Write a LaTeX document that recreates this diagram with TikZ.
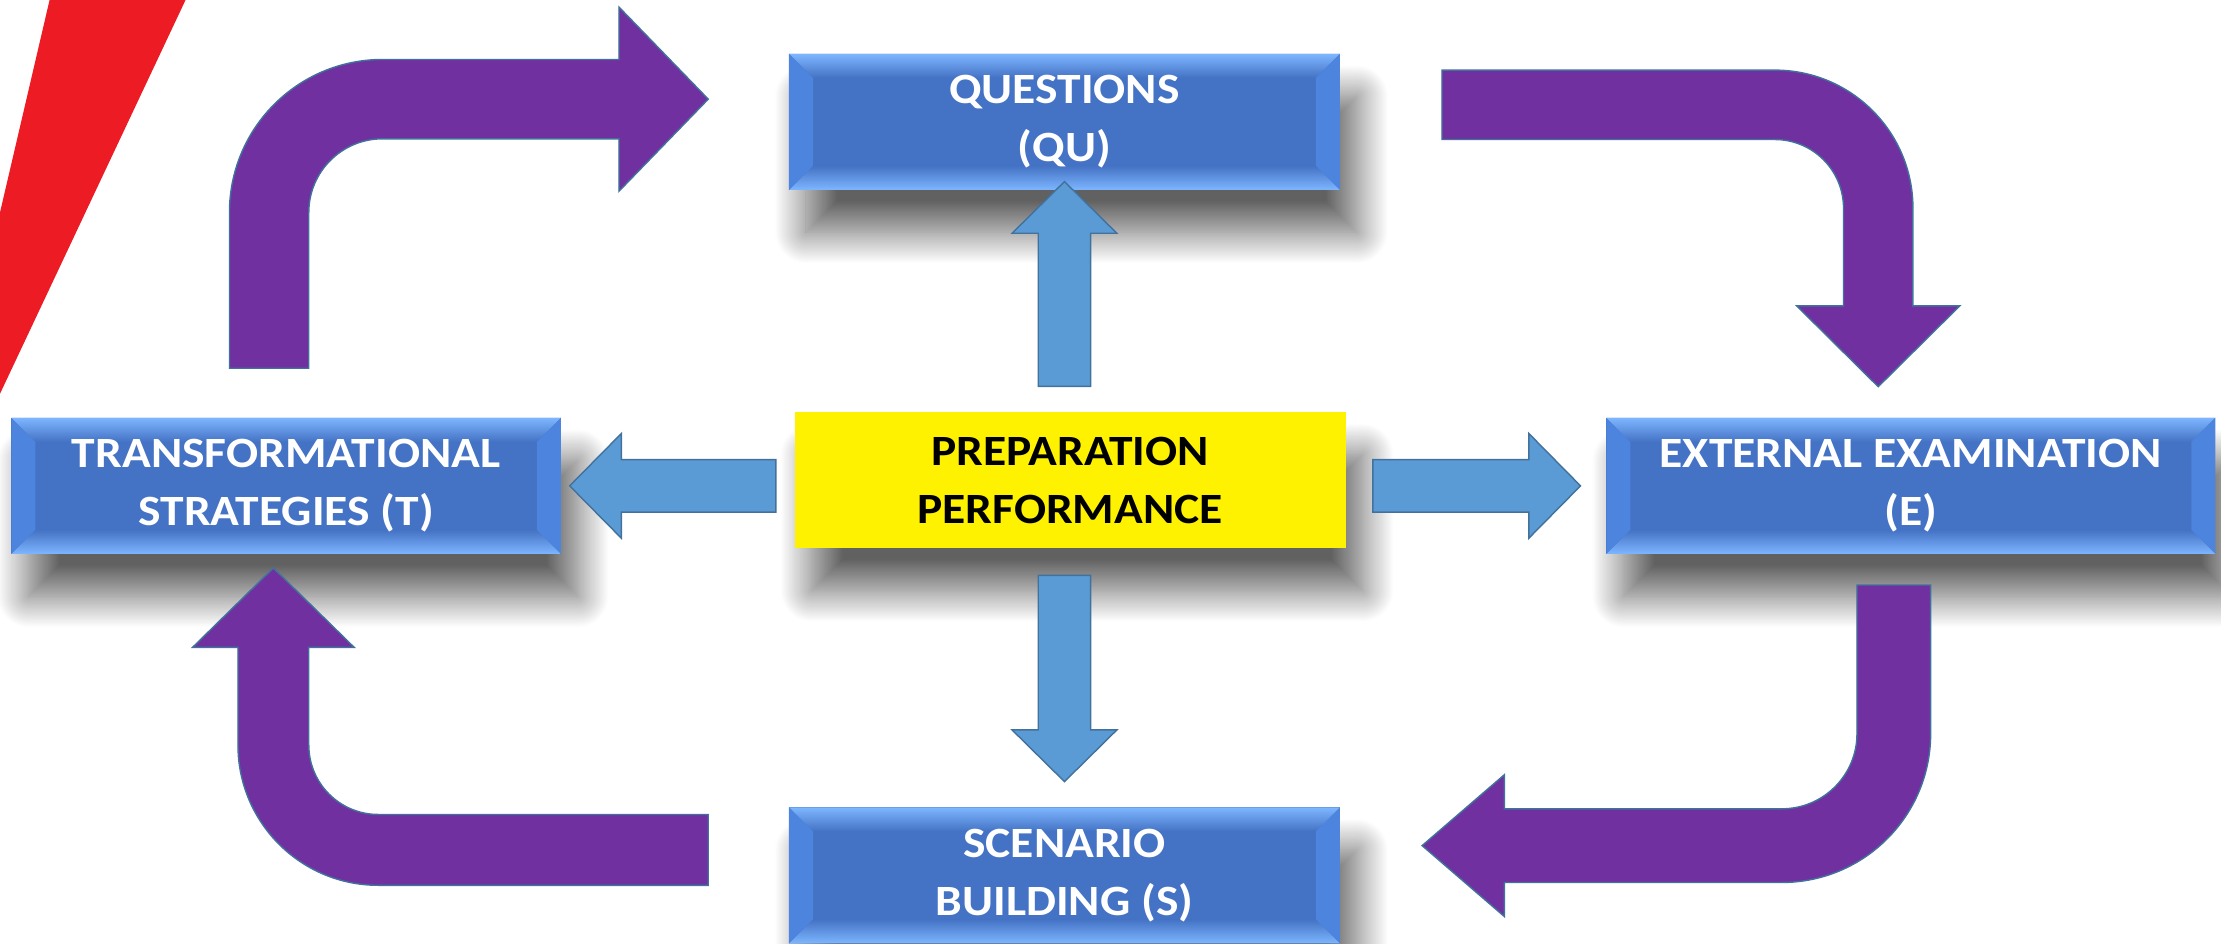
\documentclass[tikz,border=0pt]{standalone}
\usepackage{fontspec}
\setmainfont{Carlito}[FakeStretch=1.1]
\usetikzlibrary{calc,shadows.blur}

\definecolor{boxblue}{HTML}{4472C4}
\definecolor{bevlight}{HTML}{7DB6FF}
\definecolor{bevside}{HTML}{4D84DE}
\definecolor{arrowblue}{HTML}{5B9BD5}
\definecolor{edgeblue}{HTML}{41719C}
\definecolor{loopviolet}{HTML}{7030A0}
\definecolor{stripred}{HTML}{ED1C24}

\tikzset{
  softshadow/.style={blur shadow={shadow xshift=12pt, shadow yshift=-30pt,
    shadow blur radius=22pt, shadow blur steps=40, shadow opacity=62}},
  % blue bevelled boxes
  bevelbox/.style={rectangle, minimum width=389pt, minimum height=96pt, inner sep=0pt,
    align=center, text=white, fill=boxblue, font=\bfseries\fontsize{30.5}{41}\selectfont,
    softshadow,
    path picture={
      \path (path picture bounding box.north west) coordinate (nw)
            (path picture bounding box.north east) coordinate (ne)
            (path picture bounding box.south west) coordinate (sw)
            (path picture bounding box.south east) coordinate (se);
      \fill[top color=bevlight, bottom color=boxblue] (nw) -- (ne) -- ([shift={(-17pt,-17pt)}]ne) -- ([shift={(17pt,-17pt)}]nw) -- cycle;
      \fill[top color=boxblue, bottom color=bevlight] (sw) -- (se) -- ([shift={(-17pt,17pt)}]se) -- ([shift={(17pt,17pt)}]sw) -- cycle;
      \fill[bevside] (nw) -- ([shift={(17pt,-17pt)}]nw) -- ([shift={(17pt,17pt)}]sw) -- (sw) -- cycle;
      \fill[bevside] (ne) -- ([shift={(-17pt,-17pt)}]ne) -- ([shift={(-17pt,17pt)}]se) -- (se) -- cycle;
    }},
  corebox/.style={rectangle, minimum width=389pt, minimum height=96pt, inner sep=0pt,
    align=center, fill=yellow, font=\bfseries\fontsize{30.5}{41}\selectfont, softshadow},
  % straight block arrow between two points
  blockarrow/.style={draw=edgeblue, fill=arrowblue, line width=1pt,
    to path={let \p1=(\tikztostart), \p2=(\tikztotarget),
      \n1={atan2(\y2-\y1,\x2-\x1)}, \n2={veclen(\x2-\x1,\y2-\y1)-36.5pt} in
      ($(\p1)+(\n1+90:18.5pt)$) -- ($(\p1)+(\n1:{\n2*1pt})+(\n1+90:18.5pt)$)
      -- ($(\p1)+(\n1:{\n2*1pt})+(\n1+90:37pt)$) -- (\p2)
      -- ($(\p1)+(\n1:{\n2*1pt})+(\n1-90:37pt)$) -- ($(\p1)+(\n1:{\n2*1pt})+(\n1-90:18.5pt)$)
      -- ($(\p1)+(\n1-90:18.5pt)$) -- cycle}},
  loop/.style={draw=edgeblue, fill=loopviolet, line width=1pt},
  % bent arrow, vertical first: half width, radius, head half width, head length
  bentv/.style n args={4}{loop,
    to path={let \p1=(\tikztostart), \p2=(\tikztotarget),
      \n1={(\x2-\x1)/abs(\x2-\x1)}, \n2={(\y2-\y1)/abs(\y2-\y1)} in
      ({\x1-\n1*#1},\y1) -- ({\x1-\n1*#1},{\y2-\n2*#2})
      .. controls ({\x1-\n1*#1},{\y2-\n2*#2+\n2*0.5523*(#2+#1)}) and ({\x1+\n1*#2-\n1*0.5523*(#2+#1)},{\y2+\n2*#1}) ..
      ({\x1+\n1*#2},{\y2+\n2*#1}) -- ({\x2-\n1*#4},{\y2+\n2*#1}) -- ({\x2-\n1*#4},{\y2+\n2*#3}) -- (\p2)
      -- ({\x2-\n1*#4},{\y2-\n2*#3}) -- ({\x2-\n1*#4},{\y2-\n2*#1}) -- ({\x1+\n1*#2},{\y2-\n2*#1})
      .. controls ({\x1+\n1*#2-\n1*0.5523*(#2-#1)},{\y2-\n2*#1}) and ({\x1+\n1*#1},{\y2-\n2*#2+\n2*0.5523*(#2-#1)}) ..
      ({\x1+\n1*#1},{\y2-\n2*#2}) -- ({\x1+\n1*#1},\y1) -- cycle}},
  % bent arrow, horizontal first
  benth/.style n args={4}{loop,
    to path={let \p1=(\tikztostart), \p2=(\tikztotarget),
      \n1={(\x2-\x1)/abs(\x2-\x1)}, \n2={(\y2-\y1)/abs(\y2-\y1)} in
      (\x1,{\y1-\n2*#1}) -- ({\x2-\n1*#2},{\y1-\n2*#1})
      .. controls ({\x2-\n1*#2+\n1*0.5523*(#2+#1)},{\y1-\n2*#1}) and ({\x2+\n1*#1},{\y1+\n2*#2-\n2*0.5523*(#2+#1)}) ..
      ({\x2+\n1*#1},{\y1+\n2*#2}) -- ({\x2+\n1*#1},{\y2-\n2*#4}) -- ({\x2+\n1*#3},{\y2-\n2*#4}) -- (\p2)
      -- ({\x2-\n1*#3},{\y2-\n2*#4}) -- ({\x2-\n1*#1},{\y2-\n2*#4}) -- ({\x2-\n1*#1},{\y1+\n2*#2})
      .. controls ({\x2-\n1*#1},{\y1+\n2*#2-\n2*0.5523*(#2-#1)}) and ({\x2-\n1*#2+\n1*0.5523*(#2-#1)},{\y1+\n2*#1}) ..
      ({\x2-\n1*#2},{\y1+\n2*#1}) -- (\x1,{\y1+\n2*#1}) -- cycle}}
}

\begin{document}
\begin{tikzpicture}[x=1pt,y=-1pt]
  \useasboundingbox (0,0) rectangle (1568,666);

  \fill[stripred] (35,0) -- (131,0) -- (0,278) -- (0,150) -- cycle;

  \begin{scope}[every node/.style={bevelbox}]
    \node (qu) at (751.5,86)  {QUESTIONS\\(QU)};
    \node (t)  at (202,343) [minimum width=388pt] {TRANSFORMATIONAL\\STRATEGIES (T)};
    \node (e)  at (1349,343) [minimum width=430pt] {EXTERNAL EXAMINATION\\(E)};
    \node (s)  at (751.5,618) {SCENARIO\\BUILDING (S)};
  \end{scope}
  \node[corebox] (pp) at (755.5,339) {PREPARATION\\PERFORMANCE};

  % outer cycle
  \coordinate (tq1) at (190,260);
  \coordinate (tq2) at (500,70);
  \coordinate (qe1) at (1018,74);
  \coordinate (qe2) at (1326,273);
  \coordinate (es1) at (1337,413);
  \coordinate (es2) at (1004,597);
  \coordinate (st1) at (500,600);
  \coordinate (st2) at (193,401);

  \path[bentv={28}{80}{65}{63}]   (tq1) to (tq2);
  \path[benth={24.5}{73}{57.5}{57}] (qe1) to (qe2);
  \path[bentv={26}{79}{50}{58}]   (es1) to (es2);
  \path[benth={25}{74}{57}{56}]   (st1) to (st2);

  % from the centre
  \path[blockarrow] ($(qu.south |- pp.north)+(0,-18)$) to ([yshift=6pt]qu.south);
  \path[blockarrow] ($(s.north |- pp.south)+(0,19)$) to ([yshift=18pt]s.north);
  \path[blockarrow] ($(pp.west |- t.east)+(-13,0)$) to ([xshift=6pt]t.east);
  \path[blockarrow] ($(pp.east |- e.west)+(19,0)$) to ([xshift=-18pt]e.west);
\end{tikzpicture}
\end{document}
